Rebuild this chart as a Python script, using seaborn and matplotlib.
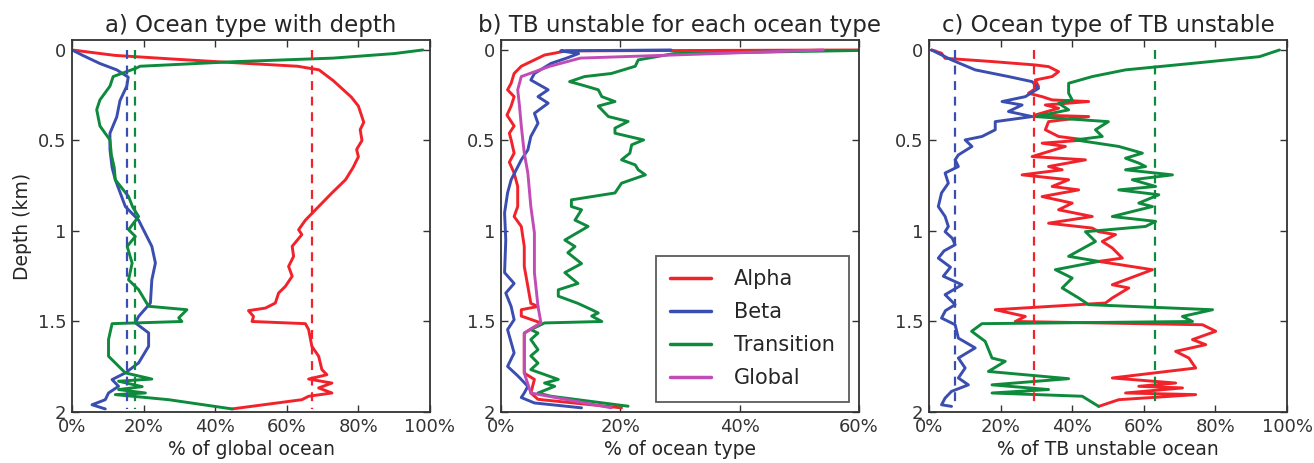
import numpy as np
import pandas as pd
import matplotlib
matplotlib.use("Agg")
import matplotlib.pyplot as plt
import seaborn as sns
from matplotlib.ticker import FuncFormatter

# ---------------- data (percent vs depth in km) ----------------
# panel a: ocean type with depth
a_alpha_depth = [0, 0.01, 0.03, 0.05, 0.07, 0.09, 0.11, 0.17, 0.26, 0.31, 0.40, 0.44, 0.50, 0.55, 0.59, 0.65,
                 0.717, 0.79, 0.865, 0.94, 0.993, 1.02, 1.085, 1.14, 1.196, 1.25, 1.306, 1.343, 1.398,
                 1.426, 1.44, 1.472, 1.50, 1.512, 1.545, 1.637, 1.692, 1.766, 1.794, 1.818, 1.84, 1.867,
                 1.895, 1.913, 1.932, 1.983]
a_alpha = [0, 4, 12, 28, 45, 63, 69, 73, 78, 80, 81.5, 80.5, 81, 79.5, 80, 78.5,
           76.4, 72.6, 68.9, 65.2, 63.3, 64.2, 61.5, 61.9, 60.5, 61.5, 59.6, 57.7, 56.8,
           54, 49.3, 50.7, 50.3, 65.2, 66.1, 67, 68.9, 69.8, 71.2, 66.1, 72.6, 68.9,
           72.6, 66.1, 64.2, 44.7]

a_trans_depth = [0, 0.02, 0.045, 0.065, 0.09, 0.10, 0.147, 0.20, 0.276, 0.33, 0.42, 0.497, 0.58, 0.65,
                 0.717, 0.81, 0.87, 0.92, 0.993, 1.03, 1.085, 1.177, 1.27, 1.324, 1.416, 1.435, 1.48,
                 1.50, 1.512, 1.60, 1.692, 1.784, 1.818, 1.83, 1.86, 1.876, 1.895, 1.904, 1.932, 1.983]
a_trans = [98, 90, 73, 45, 19, 18, 11.5, 10.6, 7.8, 6.9, 7.8, 10.6, 11, 11.8,
           12.1, 15.8, 17, 18.6, 15.8, 17.7, 15.4, 16.8, 15.8, 18.6, 21.4, 32.1, 29.8,
           30.7, 11.2, 10.2, 10.2, 14.9, 22.3, 13, 19.6, 13, 20.5, 12.1, 27, 44.7]

a_beta_depth = [0, 0.03, 0.075, 0.11, 0.15, 0.20, 0.28, 0.37, 0.46, 0.55, 0.65, 0.717, 0.865, 0.94,
                1.085, 1.177, 1.27, 1.398, 1.472, 1.508, 1.563, 1.637, 1.729, 1.784, 1.821, 1.858,
                1.895, 1.932, 1.96, 1.983]
a_beta = [0, 3, 7.8, 12.5, 15.7, 15.3, 13.4, 12.5, 10.6, 10.6, 11.2, 12.1, 14.9, 18.6,
          22.3, 23.3, 22.3, 21.9, 18.6, 17.7, 21.4, 21.4, 18.6, 14.9, 11.2, 13,
          10.2, 9.3, 5.6, 9.3]

a_means = {"Alpha": 67.1, "Beta": 15.3, "Transition": 17.6}

# panel b: TB unstable for each ocean type
b_alpha_depth = [0, 0.005, 0.028, 0.055, 0.09, 0.13, 0.184, 0.22, 0.258, 0.31, 0.36, 0.42, 0.46, 0.497,
                 0.57, 0.62, 0.68, 0.754, 0.865, 0.92, 0.975, 1.086, 1.196, 1.306, 1.40, 1.417, 1.435,
                 1.47, 1.508, 1.564, 1.785, 1.82, 1.895, 1.93, 1.977]
b_alpha = [62, 11, 7.3, 5.6, 3.4, 2.2, 1.7, 1.1, 2.2, 1.7, 1.0, 2.2, 1.4, 1.7,
           2.2, 1.4, 2.2, 2.8, 2.8, 2.2, 3.4, 3.9, 3.9, 4.5, 5, 6.2, 3.4,
           3.4, 6.7, 3.9, 3.9, 5.6, 5, 6.2, 20.2]

b_beta_depth = [0, 0.005, 0.02, 0.045, 0.074, 0.13, 0.166, 0.22, 0.258, 0.294, 0.35, 0.405, 0.478,
                0.552, 0.607, 0.717, 0.79, 0.9, 1.05, 1.23, 1.29, 1.343, 1.417, 1.49, 1.545, 1.674,
                1.748, 1.80, 1.858, 1.895, 1.92, 1.95, 1.977]
b_beta = [28.5, 10, 13, 11, 8.4, 5.6, 5, 7.9, 6.2, 7.9, 5.6, 6.2, 5,
          4.5, 3.4, 1.7, 1.1, 0.6, 0.8, 0.6, 2.2, 0.8, 1.7, 2.2, 1.1, 2.2,
          1.1, 2.8, 4.5, 3.9, 3.4, 5.6, 13.5]

b_trans_depth = [0, 0.02, 0.055, 0.09, 0.13, 0.147, 0.175, 0.193, 0.22, 0.258, 0.285, 0.31, 0.368,
                 0.395, 0.432, 0.46, 0.497, 0.524, 0.57, 0.607, 0.635, 0.662, 0.69, 0.736, 0.79,
                 0.828, 0.865, 0.883, 0.94, 0.975, 1.05, 1.086, 1.12, 1.18, 1.23, 1.29, 1.325, 1.36,
                 1.40, 1.435, 1.453, 1.47, 1.50, 1.508, 1.545, 1.564, 1.60, 1.656, 1.69, 1.73, 1.766,
                 1.82, 1.84, 1.858, 1.895, 1.913, 1.968]
b_trans = [65, 29, 23, 22.5, 18.5, 14, 11.5, 13.5, 16.3, 16.9, 19.1, 16.3, 18,
           21.3, 19.1, 19.1, 23.9, 21.9, 21.6, 20.2, 22.5, 23, 24.2, 20.2, 19.1,
           11.8, 11.8, 13.5, 12.4, 14.6, 10.7, 12.4, 11.2, 13.5, 10.7, 12.9, 9.6, 9.6,
           12.9, 15.2, 16.3, 15.2, 16.9, 7.3, 5, 6.2, 5, 6.2, 5, 6.2, 5,
           9.6, 7.3, 9, 6.2, 8.4, 21.3]

b_global_depth = [0, 0.045, 0.09, 0.147, 0.22, 0.31, 0.42, 0.57, 0.68, 0.865, 1.01, 1.23, 1.417, 1.508,
                  1.564, 1.785, 1.895, 1.977]
b_global = [54, 13.3, 8.2, 3.4, 2.8, 3.1, 3.4, 3.9, 4.5, 5, 5.6, 5.6, 6.2, 6.7,
            3.9, 3.9, 5, 18.5]

# panel c: ocean type of TB unstable
c_alpha_depth = [0, 0.018, 0.046, 0.064, 0.083, 0.092, 0.12, 0.147, 0.166, 0.202, 0.239, 0.258, 0.276,
                 0.285, 0.304, 0.322, 0.359, 0.368, 0.396, 0.441, 0.478, 0.497, 0.515, 0.533, 0.589,
                 0.607, 0.644, 0.662, 0.69, 0.717, 0.754, 0.773, 0.81, 0.846, 0.883, 0.92, 0.957,
                 0.984, 1.004, 1.02, 1.058, 1.094, 1.15, 1.168, 1.214, 1.297, 1.315, 1.37, 1.398,
                 1.435, 1.472, 1.50, 1.518, 1.554, 1.60, 1.628, 1.665, 1.702, 1.757, 1.812, 1.84,
                 1.858, 1.867, 1.895, 1.904, 1.932, 1.969]
c_alpha = [0.7, 3.5, 4.5, 17.6, 29.7, 33.4, 36.2, 34.4, 29.7, 30.6, 27.8, 31.6, 34.4,
           44.6, 32.5, 36.2, 29.7, 44.6, 33.4, 32.5, 36.2, 43.7, 31.6, 38.1, 28.8,
           43.7, 33.4, 37.2, 26, 39, 34.4, 41.8, 31.6, 40, 36.2, 45.6, 33.4,
           45.6, 47.4, 52.1, 48.4, 51.2, 54, 47.4, 62.4, 51.2, 55.8, 51.2, 49.3,
           18.5, 26.9, 24.1, 76.4, 80.1, 73.6, 77.3, 68.9, 72.6, 74.5, 51.2, 68.9,
           58.6, 70.8, 54.9, 74.5, 53, 47.4]

c_beta_depth = [0, 0.055, 0.11, 0.147, 0.175, 0.212, 0.258, 0.285, 0.304, 0.34, 0.368, 0.396, 0.441,
                0.478, 0.497, 0.533, 0.58, 0.607, 0.644, 0.68, 0.736, 0.79, 0.865, 0.92, 0.975,
                1.004, 1.04, 1.076, 1.11, 1.15, 1.20, 1.25, 1.297, 1.352, 1.407, 1.44, 1.481, 1.518,
                1.592, 1.646, 1.702, 1.757, 1.812, 1.85, 1.886, 1.923, 1.96, 1.969]
c_beta = [0.7, 6.3, 12.9, 22.2, 28.8, 30.6, 26.9, 20.4, 26, 22.2, 28.8, 18.5, 18.5,
          14.8, 10.1, 12, 8.2, 7.3, 8.2, 4.5, 5.4, 3.5, 2.6, 4.5, 5.4,
          4.5, 6.5, 7.3, 4.2, 2.6, 6.0, 4.0, 9.2, 4.5, 7.3, 4.6, 3.5, 7.3,
          8.2, 12.9, 8.2, 10.1, 8.2, 11, 6.3, 4.5, 3.5, 6.3]

c_trans_depth = [0, 0.037, 0.074, 0.11, 0.147, 0.184, 0.239, 0.276, 0.294, 0.331, 0.368, 0.396, 0.441,
                 0.478, 0.497, 0.533, 0.57, 0.598, 0.625, 0.644, 0.662, 0.69, 0.717, 0.754, 0.773,
                 0.80, 0.846, 0.865, 0.92, 0.947, 0.975, 1.004, 1.058, 1.14, 1.168, 1.214, 1.26,
                 1.315, 1.37, 1.407, 1.435, 1.472, 1.50, 1.512, 1.554, 1.61, 1.702, 1.72, 1.776,
                 1.816, 1.85, 1.876, 1.895, 1.913, 1.969]
c_trans = [97.9, 92.3, 73.6, 54.9, 45.6, 39, 39, 40, 36.2, 39, 29.7, 50.1, 46.5,
           48.4, 40.9, 53, 59.6, 54.9, 58.6, 60.5, 54.9, 68, 56.8, 63.3, 53,
           64.2, 58.6, 62.4, 51.2, 63.3, 60.5, 43.7, 46.5, 39, 47.4, 35.3, 40,
           37.2, 41.8, 44.6, 79.2, 70.8, 73.6, 14.8, 11.9, 15.7, 17.6, 21.3, 16.6,
           39, 17.6, 33.4, 17.6, 42.8, 47.4]

c_means = {"Alpha": 29.4, "Beta": 7.2, "Transition": 63.0}

titles = ["a) Ocean type with depth", "b) TB unstable for each ocean type", "c) Ocean type of TB unstable"]
xlabels = ["% of global ocean", "% of ocean type", "% of TB unstable ocean"]
xmax = [100, 60, 100]
ytick_vals = [0, 0.5, 1, 1.5, 2]
ytick_labels = ["0", "0.5", "1", "1.5", "2"]

colors = {"Alpha": "#f2222a", "Beta": "#3a4db0", "Transition": "#0e8a3c", "Global": "#c24cb6"}

# ---------------- figure ----------------
sns.set_style("ticks")
plt.rcParams["font.family"] = ["DejaVu Sans"]
plt.rcParams["text.color"] = "#262626"
plt.rcParams["axes.labelcolor"] = "#262626"
plt.rcParams["xtick.color"] = "#333333"
plt.rcParams["ytick.color"] = "#333333"

fig = plt.figure(figsize=(13.14, 4.63), dpi=100)
lefts = [72 / 1314, 501 / 1314, 929 / 1314]
w = 358 / 1314
b0 = 1 - 412 / 463
h = 372 / 463
axes = [fig.add_axes([l, b0, w, h]) for l in lefts]

panels = [
    [("Alpha", a_alpha_depth, a_alpha), ("Beta", a_beta_depth, a_beta), ("Transition", a_trans_depth, a_trans)],
    [("Alpha", b_alpha_depth, b_alpha), ("Beta", b_beta_depth, b_beta), ("Transition", b_trans_depth, b_trans),
     ("Global", b_global_depth, b_global)],
    [("Alpha", c_alpha_depth, c_alpha), ("Beta", c_beta_depth, c_beta), ("Transition", c_trans_depth, c_trans)],
]
means = [a_means, None, c_means]

for i, ax in enumerate(axes):
    for name, dep, val in panels[i]:
        df = pd.DataFrame({"depth": dep, "pct": val})
        sns.lineplot(data=df, x="pct", y="depth", sort=False, estimator=None, ax=ax,
                     color=colors[name], lw=2.1, label=name, legend=False)
    if means[i] is not None:
        for name, m in means[i].items():
            dep = panels[i][[p[0] for p in panels[i]].index(name)][1]
            ax.vlines(m, min(dep), max(dep), colors=colors[name], lw=1.6,
                      linestyles=(0, (4, 3)))
    ax.set_xlim(0, xmax[i])
    ax.set_ylim(2, -0.055)
    ax.set_xticks(np.arange(0, xmax[i] + 1, 20))
    ax.xaxis.set_major_formatter(FuncFormatter(lambda v, p: f"{v:.0f}%"))
    ax.set_yticks(ytick_vals)
    ax.set_yticklabels(ytick_labels)
    ax.tick_params(direction="in", top=True, right=True, length=5, width=1,
                   labelsize=13, pad=4)
    ax.set_title(titles[i], fontsize=16.5, pad=6)
    ax.set_xlabel(xlabels[i], fontsize=13.5, labelpad=3)
    ax.set_ylabel("")
    for s in ax.spines.values():
        s.set_color("#333333")
        s.set_linewidth(1.3)

axes[0].set_ylabel("Depth (km)", fontsize=13.5, labelpad=4)

leg = axes[1].legend(loc="lower right", fontsize=15, frameon=True, fancybox=False,
                     edgecolor="#333333", handlelength=2.0, handletextpad=1.1,
                     labelspacing=0.62, borderpad=0.65, borderaxespad=0.5)
leg.get_frame().set_linewidth(1.3)
for line in leg.get_lines():
    line.set_linewidth(2.5)

fig.savefig("out.png", dpi=100)
